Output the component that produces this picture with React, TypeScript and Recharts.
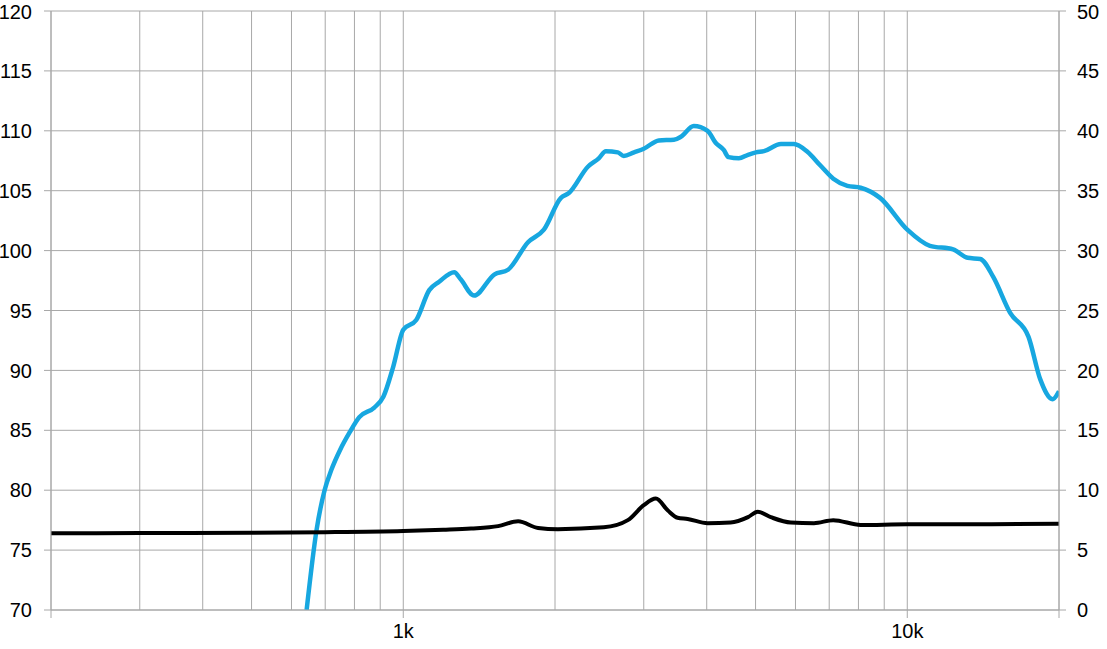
import React from 'react';
import { LineChart, Line, XAxis, YAxis, CartesianGrid } from 'recharts';

// SPL (left axis, dB)
const splFreq = [
  643, 673, 698, 720, 750, 782, 818, 876, 913, 955, 1000, 1061, 1126, 1178, 1262, 1300, 1382, 1515, 1614,
  1768, 1901, 2055, 2131, 2324, 2443, 2523, 2665, 2738, 2870, 3000, 3214, 3443, 3554, 3770, 4016, 4166,
  4323, 4419, 4633, 4830, 5010, 5196, 5614, 5958, 6336, 6725, 7133, 7605, 8080, 8830, 10000, 11090,
  12330, 13170, 13960, 14810, 16000, 17400, 18360, 19430, 20000,
];
const splValues = [
  70, 76.7, 80, 81.7, 83.4, 84.8, 86.1, 86.9, 87.8, 90.3, 93.4, 94.2, 96.7, 97.4, 98.2, 97.6, 96.25, 98, 98.4,
  100.7, 101.75, 104.4, 104.8, 107, 107.7, 108.3, 108.2, 107.9, 108.2, 108.5, 109.2, 109.25, 109.5, 110.4, 110,
  109, 108.4, 107.8, 107.7, 108, 108.2, 108.3, 108.9, 108.9, 108.25, 107.1, 106, 105.4, 105.25, 104.4, 101.75,
  100.4, 100.1, 99.4, 99.3, 97.8, 94.8, 92.8, 89.25, 87.6, 88.25,
];

// Impedance (right axis, ohm)
const impFreq = [
  200, 300, 500, 700, 1000, 1200, 1363, 1542, 1690, 1851, 2027, 2500, 2790, 3000, 3170, 3350, 3500, 3666,
  4016, 4460, 4830, 5050, 5360, 5870, 6530, 7130, 8080, 10000, 14000, 20000,
];
const impValues = [
  6.4, 6.42, 6.45, 6.5, 6.6, 6.7, 6.8, 7.0, 7.4, 6.85, 6.75, 6.9, 7.5, 8.75, 9.3, 8.3, 7.7, 7.6,
  7.25, 7.3, 7.75, 8.2, 7.75, 7.3, 7.25, 7.5, 7.1, 7.15, 7.15, 7.2,
];

const gridFreqs = [
  200, 300, 400, 500, 600, 700, 800, 900, 1000, 2000, 3000, 4000, 5000, 6000, 7000, 8000, 9000, 10000, 20000,
];
const majorFreqs = [200, 1000, 10000, 20000];
const freqLabels: Record<number, string> = { 1000: '1k', 10000: '10k' };

const leftTicks = [70, 75, 80, 85, 90, 95, 100, 105, 110, 115, 120];
const rightTicks = [0, 5, 10, 15, 20, 25, 30, 35, 40, 45, 50];

const splData = splFreq.map((f, i) => ({ f, v: splValues[i] }));
const impData = impFreq.map((f, i) => ({ f, v: impValues[i] }));

const GRID = '#a8a8a8';
const FONT = '"Liberation Sans", Arial, sans-serif';

const FreqTick = (props: any) => {
  const { x, y, payload } = props;
  const val = payload.value;
  const isMajor = majorFreqs.includes(val);
  return (
    <g>
      {isMajor && <line x1={x} x2={x} y1={610} y2={618} stroke={GRID} strokeWidth={1} />}
      {freqLabels[val] && (
        <text x={x} y={624} dy="0.71em" textAnchor="middle" fill="#000" fontSize={20} fontFamily={FONT}>
          {freqLabels[val]}
        </text>
      )}
    </g>
  );
};

export default function App() {
  return (
    <div style={{ position: 'absolute', left: 0, top: 0, background: '#fff' }}>
      <LineChart width={1107} height={649} margin={{ top: 11, right: 0, left: 0, bottom: 0 }}>
        <CartesianGrid stroke={GRID} yAxisId="left" />
        <XAxis
          dataKey="f"
          type="number"
          scale="log"
          domain={[200, 20000]}
          allowDataOverflow
          ticks={gridFreqs}
          interval={0}
          height={39}
          stroke={GRID}
          tickLine={false}
          tick={<FreqTick />}
        />
        <YAxis
          yAxisId="left"
          domain={[70, 120]}
          ticks={leftTicks}
          allowDataOverflow
          width={51}
          tickSize={7}
          tickMargin={12}
          stroke={GRID}
          tick={{ fill: '#000', fontSize: 20, fontFamily: FONT }}
        />
        <YAxis
          yAxisId="right"
          orientation="right"
          domain={[0, 50]}
          ticks={rightTicks}
          allowDataOverflow
          width={48}
          tickSize={7}
          tickMargin={11}
          stroke={GRID}
          tick={{ fill: '#000', fontSize: 20, fontFamily: FONT }}
        />
        <Line
          yAxisId="left"
          data={splData}
          dataKey="v"
          type="monotone"
          stroke="#17a7e0"
          strokeWidth={4.5}
          dot={false}
          isAnimationActive={false}
        />
        <Line
          yAxisId="right"
          data={impData}
          dataKey="v"
          type="monotone"
          stroke="#000"
          strokeWidth={4}
          dot={false}
          isAnimationActive={false}
        />
      </LineChart>
    </div>
  );
}
